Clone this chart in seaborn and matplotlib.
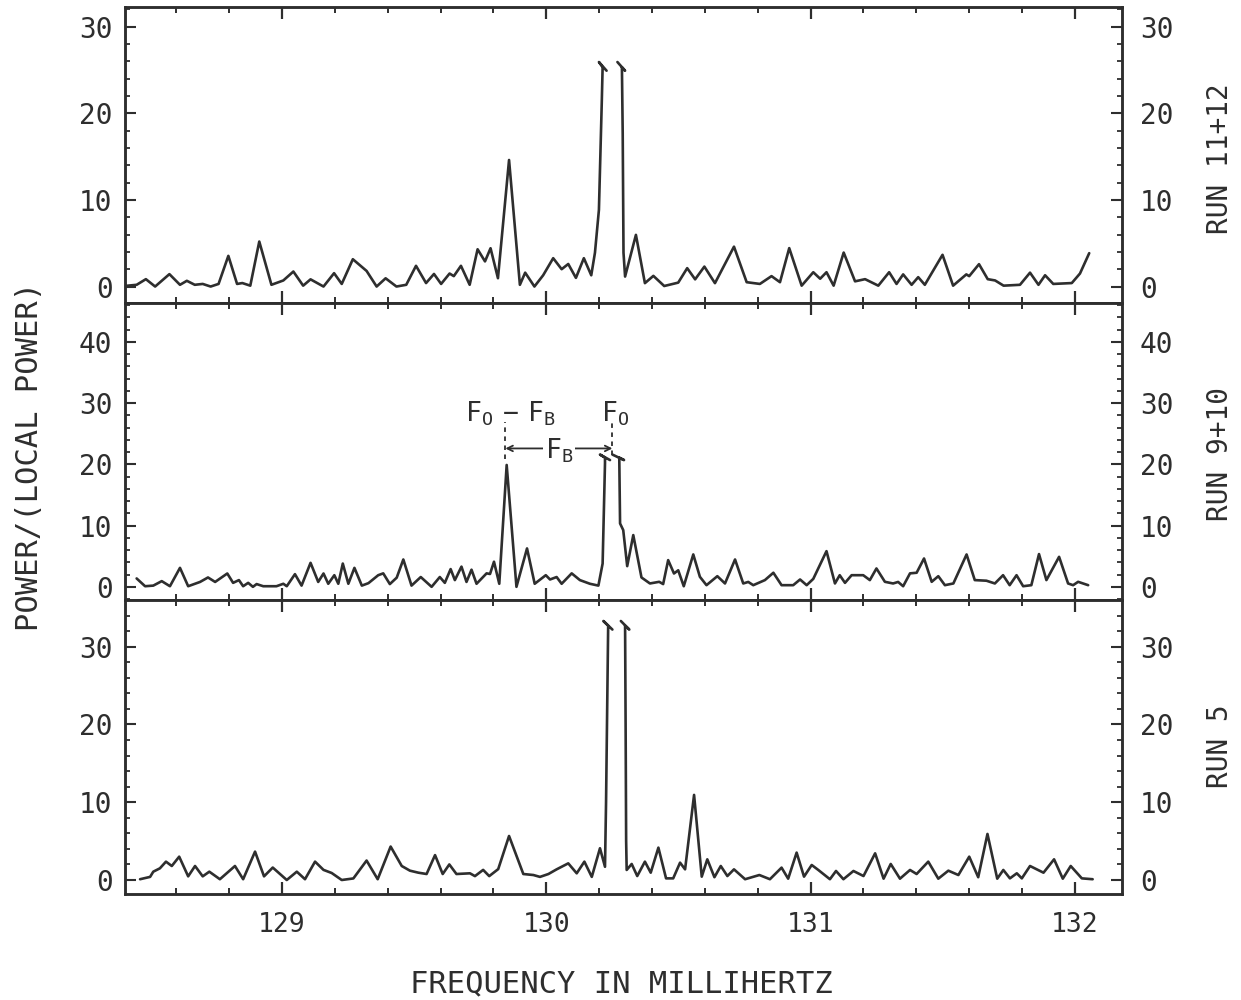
import numpy as np
import pandas as pd
import matplotlib.pyplot as plt
from matplotlib.ticker import MultipleLocator
import seaborn as sns

sns.set_theme(style='ticks')
plt.rcParams['font.family'] = ['DejaVu Sans Mono', 'DejaVu Sans']
plt.rcParams['mathtext.default'] = 'regular'

INK = '#2e2e2e'

# ---- RUN 11+12 (top), left and right of the clipped pair of peaks ----
f_top_a = [128.41, 128.45, 128.485, 128.52, 128.574, 128.614, 128.64, 128.67, 128.70, 128.73,
           128.76, 128.797, 128.83, 128.85, 128.88, 128.914, 128.96, 129.005, 129.043, 129.08,
           129.108, 129.157, 129.197, 129.226, 129.268, 129.32, 129.358, 129.392, 129.433, 129.47,
           129.507, 129.545, 129.575, 129.602, 129.634, 129.65, 129.677, 129.71, 129.74, 129.768,
           129.789, 129.817, 129.859, 129.90, 129.92, 129.955, 129.988, 130.026, 130.058, 130.083,
           130.112, 130.142, 130.17, 130.184, 130.199, 130.21, 130.213, 130.199, 130.228]
p_top_a = [0.08, 0.2, 0.85, 0.0, 1.43, 0.2, 0.66, 0.2, 0.3, 0.0,
           0.3, 3.54, 0.3, 0.4, 0.1, 5.19, 0.2, 0.7, 1.73, 0.1,
           0.83, 0.0, 1.54, 0.3, 3.15, 1.8, 0.0, 0.95, 0.0, 0.2,
           2.39, 0.4, 1.45, 0.3, 1.5, 1.2, 2.39, 0.2, 4.3, 2.9,
           4.42, 0.96, 14.6, 0.2, 1.6, 0.0, 1.3, 3.27, 2.0, 2.6,
           1.0, 3.27, 1.3, 3.9, 8.85, 21.5, 25.3, 25.9, 24.9]
f_top_b = [130.269, 130.298, 130.286, 130.289, 130.292, 130.298, 130.339, 130.373, 130.405, 130.446,
           130.499, 130.533, 130.563, 130.598, 130.638, 130.71, 130.758, 130.808, 130.852, 130.884,
           130.919, 130.966, 131.01, 131.036, 131.06, 131.087, 131.125, 131.168, 131.206, 131.256,
           131.297, 131.325, 131.35, 131.382, 131.407, 131.432, 131.499, 131.539, 131.589, 131.60,
           131.637, 131.67, 131.698, 131.73, 131.792, 131.83, 131.862, 131.887, 131.918, 131.988,
           132.019, 132.054]
p_top_b = [25.9, 24.9, 25.3, 17.7, 3.9, 1.15, 5.96, 0.39, 1.23, 0.06,
           0.45, 2.12, 0.83, 2.3, 0.39, 4.6, 0.5, 0.3, 1.2, 0.5,
           4.43, 0.1, 1.65, 0.9, 1.65, 0.1, 3.92, 0.6, 0.85, 0.1,
           1.65, 0.3, 1.4, 0.2, 1.08, 0.2, 3.66, 0.1, 1.4, 1.2,
           2.58, 0.85, 0.7, 0.1, 0.2, 1.6, 0.2, 1.3, 0.3, 0.4,
           1.5, 3.85]

# ---- RUN 9+10 (middle) ----
f_mid_a = [128.45, 128.482, 128.513, 128.545, 128.576, 128.614, 128.645, 128.69, 128.72, 128.747,
           128.793, 128.815, 128.837, 128.853, 128.872, 128.89, 128.904, 128.929, 128.979, 129.005,
           129.018, 129.049, 129.074, 129.108, 129.137, 129.157, 129.175, 129.198, 129.213, 129.23,
           129.251, 129.274, 129.302, 129.327, 129.364, 129.383, 129.408, 129.434, 129.459, 129.49,
           129.525, 129.566, 129.597, 129.616, 129.638, 129.654, 129.679, 129.698, 129.717, 129.736,
           129.774, 129.787, 129.802, 129.822, 129.85, 129.887, 129.927, 129.956, 129.998, 130.014,
           130.039, 130.058, 130.096, 130.127, 130.165, 130.197, 130.213, 130.222, 130.222, 130.203,
           130.241]
p_mid_a = [1.37, 0.1, 0.2, 0.93, 0.1, 3.1, 0.1, 0.8, 1.53, 0.8,
           2.18, 0.65, 1.1, 0.1, 0.65, 0.0, 0.45, 0.1, 0.1, 0.5,
           0.1, 2.07, 0.2, 3.92, 0.8, 2.18, 0.5, 1.9, 0.5, 3.8,
           0.5, 3.1, 0.2, 0.6, 1.9, 2.2, 0.45, 1.5, 4.47, 0.2,
           1.6, 0.0, 1.6, 0.65, 2.9, 1.1, 3.3, 0.8, 2.8, 0.5,
           2.2, 2.1, 4.1, 0.5, 19.9, 0.0, 6.27, 0.5, 1.9, 1.2,
           1.6, 0.5, 2.2, 1.1, 0.5, 0.2, 3.8, 20.2, 21.1, 21.6,
           20.7]
f_mid_b = [130.25, 130.294, 130.276, 130.279, 130.291, 130.306, 130.329, 130.36, 130.392, 130.427,
           130.442, 130.461, 130.483, 130.499, 130.52, 130.556, 130.581, 130.606, 130.647, 130.676,
           130.714, 130.745, 130.764, 130.783, 130.827, 130.859, 130.89, 130.934, 130.96, 130.985,
           131.01, 131.06, 131.092, 131.11, 131.13, 131.155, 131.199, 131.224, 131.249, 131.281,
           131.312, 131.331, 131.35, 131.376, 131.401, 131.429, 131.458, 131.483, 131.508, 131.54,
           131.59, 131.621, 131.665, 131.697, 131.728, 131.753, 131.779, 131.804, 131.835, 131.864,
           131.892, 131.94, 131.974, 131.993, 132.012, 132.05]
p_mid_b = [21.6, 20.7, 21.1, 10.35, 9.26, 3.38, 8.45, 1.53, 0.55, 0.82,
           0.45, 4.36, 2.18, 2.7, 0.1, 5.29, 1.64, 0.27, 1.74, 0.55,
           4.47, 0.55, 0.8, 0.27, 1.1, 2.3, 0.27, 0.27, 1.2, 0.27,
           1.3, 5.83, 0.55, 1.9, 0.65, 1.9, 1.9, 1.1, 3.0, 0.82,
           0.55, 0.8, 0.1, 2.2, 2.3, 4.63, 0.82, 1.74, 0.27, 0.55,
           5.29, 1.1, 1.0, 0.55, 1.9, 0.27, 1.9, 0.1, 0.27, 5.35,
           1.1, 4.9, 0.55, 0.27, 0.82, 0.27]

# ---- RUN 5 (bottom) ----
f_bot_a = [128.463, 128.501, 128.513, 128.538, 128.561, 128.583, 128.611, 128.645, 128.671, 128.70,
           128.725, 128.765, 128.822, 128.853, 128.898, 128.932, 128.965, 129.018, 129.056, 129.087,
           129.125, 129.157, 129.188, 129.226, 129.27, 129.32, 129.362, 129.411, 129.453, 129.484,
           129.516, 129.547, 129.579, 129.608, 129.633, 129.66, 129.711, 129.73, 129.761, 129.784,
           129.818, 129.859, 129.913, 129.951, 129.976, 130.008, 130.039, 130.083, 130.115, 130.144,
           130.172, 130.203, 130.222, 130.226, 130.234, 130.216, 130.25]
p_bot_a = [0.1, 0.4, 1.07, 1.5, 2.36, 1.8, 3.0, 0.47, 1.8, 0.47,
           1.07, 0.1, 1.8, 0.1, 3.65, 0.47, 1.6, 0.0, 1.07, 0.1,
           2.36, 1.3, 0.9, 0.0, 0.2, 2.5, 0.1, 4.3, 1.8, 1.2,
           0.94, 0.77, 3.2, 0.77, 2.0, 0.77, 0.86, 0.5, 1.3, 0.5,
           1.4, 5.66, 0.77, 0.64, 0.4, 0.77, 1.37, 2.14, 0.86, 2.36,
           0.4, 4.08, 1.7, 10.0, 32.7, 33.3, 32.2]
f_bot_b = [130.282, 130.314, 130.298, 130.30, 130.302, 130.304, 130.323, 130.344, 130.373, 130.395,
           130.424, 130.453, 130.48, 130.506, 130.525, 130.559, 130.588, 130.609, 130.636, 130.66,
           130.685, 130.71, 130.752, 130.806, 130.846, 130.89, 130.915, 130.947, 130.975, 131.004,
           131.029, 131.073, 131.096, 131.124, 131.162, 131.20, 131.244, 131.276, 131.303, 131.338,
           131.376, 131.401, 131.445, 131.483, 131.521, 131.559, 131.60, 131.634, 131.669, 131.706,
           131.729, 131.754, 131.78, 131.799, 131.83, 131.881, 131.921, 131.954, 131.984, 132.026,
           132.067]
p_bot_b = [33.3, 32.2, 32.7, 20.0, 5.0, 1.29, 2.06, 0.51, 2.36, 0.94,
           4.16, 0.21, 0.21, 2.23, 1.37, 10.94, 0.43, 2.66, 0.36, 1.8,
           0.51, 1.37, 0.1, 0.64, 0.1, 1.59, 0.17, 3.52, 0.43, 1.93,
           1.29, 0.1, 1.16, 0.1, 1.16, 0.51, 3.43, 0.17, 2.06, 0.17,
           1.29, 0.77, 2.36, 0.17, 1.2, 0.64, 3.0, 0.36, 5.92, 0.17,
           1.29, 0.21, 0.86, 0.21, 1.8, 0.94, 2.66, 0.17, 1.8, 0.21,
           0.1]

run_names = ['RUN 11+12', 'RUN 9+10', 'RUN 5']
y_limits = [(-1.9, 32.25), (-2.15, 46.35), (-1.8, 36.0)]
y_top_tick = [30, 40, 30]
x_limits = (128.406, 132.178)
f_carrier = 130.25     # F_O
f_side = 129.845       # F_O - F_B

segments = [[(f_top_a, p_top_a), (f_top_b, p_top_b)],
            [(f_mid_a, p_mid_a), (f_mid_b, p_mid_b)],
            [(f_bot_a, p_bot_a), (f_bot_b, p_bot_b)]]

fig = plt.figure(figsize=(12.41, 10), dpi=100)
fig.patch.set_facecolor('white')
gs = fig.add_gridspec(3, 1, height_ratios=[296, 297, 294], hspace=0,
                      left=125/1241, right=1122/1241, top=0.993, bottom=0.106)

axes = []
for i in range(3):
    ax = fig.add_subplot(gs[i])
    axes.append(ax)
    for f, p in segments[i]:
        sns.lineplot(x=f, y=p, ax=ax, sort=False, estimator=None,
                     color=INK, linewidth=1.9, solid_joinstyle='round')
    ax.set_xlim(*x_limits)
    ax.set_ylim(*y_limits[i])
    ax.set_facecolor('white')
    for s in ax.spines.values():
        s.set_linewidth(1.8)
        s.set_color(INK)
        s.set_visible(True)
    ax.xaxis.set_major_locator(MultipleLocator(1))
    ax.xaxis.set_minor_locator(MultipleLocator(0.2))
    ax.set_yticks(list(range(0, y_top_tick[i] + 1, 10)))
    ax.yaxis.set_minor_locator(MultipleLocator(2))
    ax.tick_params(axis='x', which='both', direction='in', top=True, bottom=True,
                   color=INK, labelbottom=(i == 2), labelsize=19, labelcolor=INK, pad=13)
    ax.tick_params(axis='x', which='major', length=8.5, width=1.6)
    ax.tick_params(axis='x', which='minor', length=4.5, width=1.4)
    ax.tick_params(axis='y', which='both', direction='in', left=True, right=False,
                   color=INK, labelsize=20, labelcolor=INK, pad=9)
    ax.tick_params(axis='y', which='major', length=8, width=1.5)
    ax.tick_params(axis='y', which='minor', length=3.6, width=1.3)
    ax.set_xlabel('')
    ax.set_ylabel('')

    # right-hand scale
    axr = ax.twinx()
    axr.set_ylim(*y_limits[i])
    axr.set_yticks(list(range(0, y_top_tick[i] + 1, 10)))
    axr.yaxis.set_minor_locator(MultipleLocator(2))
    axr.tick_params(axis='y', which='both', direction='in', color=INK,
                    labelsize=20, labelcolor=INK, pad=13)
    axr.tick_params(axis='y', which='major', length=8, width=1.5)
    axr.tick_params(axis='y', which='minor', length=3.6, width=1.3)
    for s in axr.spines.values():
        s.set_linewidth(1.8)
        s.set_color(INK)

# annotation of the carrier and the sideband in RUN 9+10
am = axes[1]
am.plot([f_side, f_side], [20.8, 26.9], color=INK, lw=1.3, ls=(0, (2.5, 2.5)))
am.plot([f_carrier, f_carrier], [21.6, 27.2], color=INK, lw=1.3, ls=(0, (2.5, 2.5)))
am.annotate('', xy=(f_side, 22.6), xytext=(f_carrier, 22.6),
            arrowprops=dict(arrowstyle='<->', color=INK, lw=1.3,
                            shrinkA=0, shrinkB=0, mutation_scale=10))
am.text((f_side + f_carrier) / 2, 22.3, r'$F_B$', ha='center', va='center', fontsize=19,
        color=INK, bbox=dict(fc='white', ec='none', pad=1.5))
am.text(f_side + 0.018, 26.0, r'$F_O\,-\,F_B$', ha='center', va='bottom', fontsize=19, color=INK)
am.text(f_carrier + 0.012, 26.0, r'$F_O$', ha='center', va='bottom', fontsize=19, color=INK)

# labels
fig.text(30/1241, 1 - 456/1000, 'POWER/(LOCAL POWER)', rotation=90,
         ha='center', va='center', fontsize=22, color=INK)
fig.text(621/1241, 1 - 984/1000, 'FREQUENCY IN MILLIHERTZ',
         ha='center', va='center', fontsize=22, color=INK)
for name, yc in zip(run_names, [159, 454, 746]):
    fig.text(1220/1241, 1 - yc/1000, name, rotation=90,
             ha='center', va='center', fontsize=20, color=INK)

plt.savefig('out.png', dpi=100, facecolor='white')
